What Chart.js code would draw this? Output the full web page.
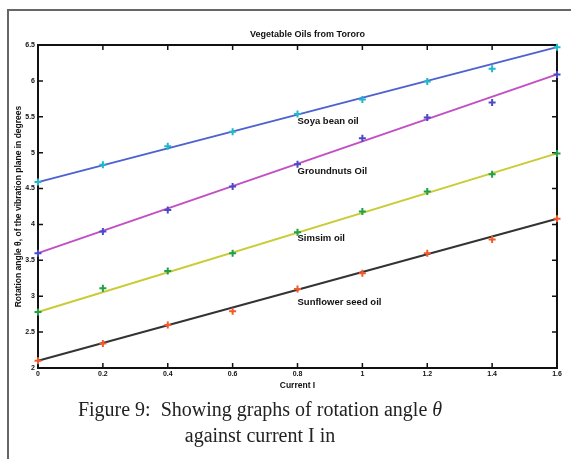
<!DOCTYPE html>
<html>
<head>
<meta charset="utf-8">
<script src="https://cdn.jsdelivr.net/npm/chart.js@4"></script>
<style>
  body { margin: 0; background: #fff; width: 571px; height: 459px; overflow: hidden; position: relative; }
  #frame { position: absolute; left: 7px; top: 9px; width: 600px; height: 500px;
           border-left: 2px solid #666; border-top: 2px solid #666; }
  #wrap { position: absolute; left: 0; top: 0; width: 571px; height: 400px; }
  .cap { position: absolute; width: 520px; left: 0; text-align: center;
         font-family: "Liberation Serif", "DejaVu Serif", serif; font-size: 20px; color: #222; }
</style>
</head>
<body>
<div id="frame"></div>
<div id="wrap"><canvas id="chart" width="571" height="400"></canvas></div>
<div class="cap" style="top:398px">Figure 9:&nbsp; Showing graphs of rotation angle <i>θ</i></div>
<div class="cap" style="top:424px">against current I in</div>

<script>
// Data
const current = [0, 0.2, 0.4, 0.6, 0.8, 1.0, 1.2, 1.4, 1.6];
const soya = [4.59, 4.83, 5.09, 5.29, 5.54, 5.74, 5.99, 6.17, 6.47];
const groundnuts = [3.60, 3.90, 4.20, 4.53, 4.84, 5.20, 5.49, 5.70, 6.09];
const simsim = [2.78, 3.11, 3.35, 3.60, 3.89, 4.18, 4.46, 4.70, 4.99];
const sunflower = [2.10, 2.34, 2.60, 2.79, 3.10, 3.32, 3.60, 3.79, 4.08];

// straight fitted lines (end points)
const fitX = [0, 1.6];
const soyaFit = [4.59, 6.47];
const groundnutsFit = [3.60, 6.09];
const simsimFit = [2.78, 4.99];
const sunflowerFit = [2.10, 4.08];

// text labels placed in data units
const labelNames = ['Soya bean oil', 'Groundnuts Oil', 'Simsim oil', 'Sunflower seed oil'];
const labelX = [0.8, 0.8, 0.8, 0.8];
const labelY = [5.43, 4.74, 3.81, 2.91];

const xTicks = ['0', '0.2', '0.4', '0.6', '0.8', '1', '1.2', '1.4', '1.6'];
const yTicks = ['2', '2.5', '3', '3.5', '4', '4.5', '5', '5.5', '6', '6.5'];

function pts(xs, ys) {
  return xs.map((x, i) => ({ x: x, y: ys[i] }));
}

function fitSet(ys, color) {
  return { data: pts(fitX, ys), borderColor: color, borderWidth: 2, pointRadius: 0, showLine: true,
           order: 2, clip: false };
}

function markSet(ys, color) {
  return { data: pts(current, ys), borderColor: color, backgroundColor: color, pointStyle: 'cross',
           pointRadius: 3.5, pointBorderWidth: 2, showLine: false, order: 1, clip: false };
}

const tickFont = { family: 'Liberation Sans', size: 7, weight: 'bold' };

// box with inward ticks on all four sides (under the data), then the in-plot labels
const matlabBox = {
  id: 'matlabBox',
  beforeDatasetsDraw(chart) {
    const ctx = chart.ctx;
    const a = chart.chartArea;
    const xs = chart.scales.x, ys = chart.scales.y;
    ctx.save();
    ctx.strokeStyle = '#111';
    ctx.lineWidth = 2;
    ctx.strokeRect(a.left, a.top, a.right - a.left, a.bottom - a.top);
    ctx.lineWidth = 1.5;
    ctx.beginPath();
    xs.ticks.forEach(t => {
      const px = xs.getPixelForValue(t.value);
      ctx.moveTo(px, a.bottom); ctx.lineTo(px, a.bottom - 5);
      ctx.moveTo(px, a.top); ctx.lineTo(px, a.top + 5);
    });
    ys.ticks.forEach(t => {
      const py = ys.getPixelForValue(t.value);
      ctx.moveTo(a.left, py); ctx.lineTo(a.left + 5, py);
      ctx.moveTo(a.right, py); ctx.lineTo(a.right - 5, py);
    });
    ctx.stroke();
    ctx.restore();
  },
  afterDraw(chart) {
    const ctx = chart.ctx;
    const a = chart.chartArea;
    const xs = chart.scales.x, ys = chart.scales.y;
    ctx.save();
    ctx.fillStyle = '#111';
    ctx.font = 'bold 9.5px "Liberation Sans"';
    ctx.textBaseline = 'middle';
    ctx.textAlign = 'left';
    labelNames.forEach((name, i) => {
      ctx.fillText(name, xs.getPixelForValue(labelX[i]), ys.getPixelForValue(labelY[i]));
    });

    ctx.font = 'bold 9px "Liberation Sans"';
    ctx.textAlign = 'center';
    ctx.fillText('Vegetable Oils from Tororo', (a.left + a.right) / 2 + 10, 35);
    ctx.restore();
  }
};

new Chart(document.getElementById('chart'), {
  type: 'scatter',
  data: {
    datasets: [
      fitSet(soyaFit, '#4d62d0'),
      fitSet(groundnutsFit, '#c24fc4'),
      fitSet(simsimFit, '#c9cc36'),
      fitSet(sunflowerFit, '#333333'),
      markSet(soya, '#1fb8cc'),
      markSet(groundnuts, '#4a4ac8'),
      markSet(simsim, '#22a045'),
      markSet(sunflower, '#f25a2c')
    ]
  },
  options: {
    responsive: false,
    animation: false,
    layout: { padding: { left: 0, top: 45, right: 14, bottom: 0 } },
    plugins: { legend: { display: false }, tooltip: { enabled: false } },
    scales: {
      x: {
        type: 'linear', min: 0, max: 1.6,
        grid: { display: false, drawTicks: false, tickLength: 0 },
        border: { display: false },
        afterFit: s => { s.height = 32; },
        afterBuildTicks: s => { s.ticks = current.map(v => ({ value: v })); },
        ticks: { font: tickFont, color: '#111', padding: 2, maxRotation: 0,
                 callback: (v, i) => xTicks[i] },
        title: { display: true, text: 'Current I', color: '#111',
                 font: { family: 'Liberation Sans', size: 8.5, weight: 'bold' },
                 padding: { top: 0, bottom: 9 } }
      },
      y: {
        min: 2, max: 6.5,
        grid: { display: false, drawTicks: false, tickLength: 0 },
        border: { display: false },
        afterFit: s => { s.width = 38; },
        afterBuildTicks: s => { s.ticks = yTicks.map(v => ({ value: parseFloat(v) })); },
        ticks: { font: tickFont, color: '#111', padding: 3,
                 callback: (v, i) => yTicks[i] },
        title: { display: true, text: 'Rotation angle θ, of the vibration plane in degrees', color: '#111',
                 font: { family: 'Liberation Sans', size: 8.5, weight: 'bold' },
                 padding: { top: 14, bottom: 0 } }
      }
    }
  },
  plugins: [matlabBox]
});
</script>
</body>
</html>
